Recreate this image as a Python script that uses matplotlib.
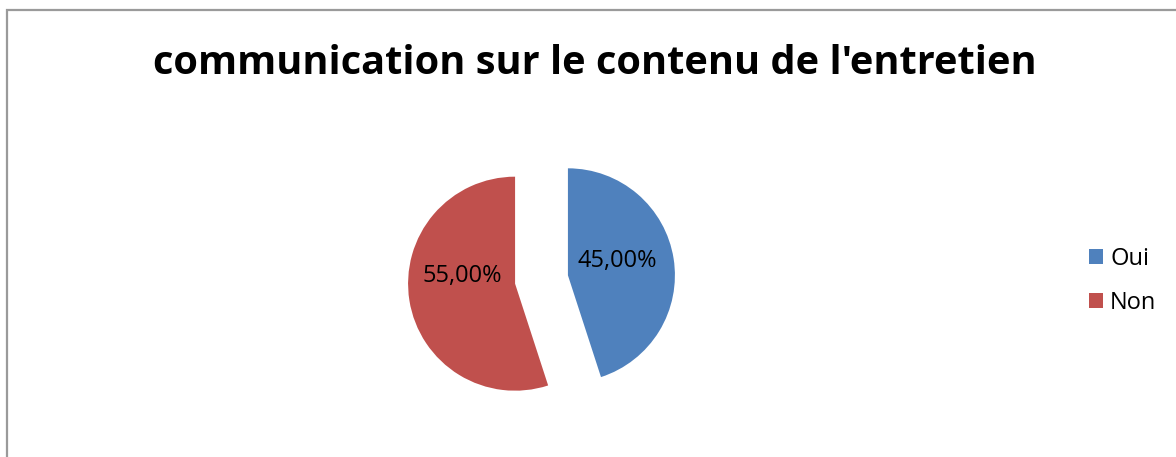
import matplotlib

matplotlib.use("Agg")
import matplotlib.pyplot as plt
from matplotlib.patches import Rectangle

plt.rcParams["font.family"] = ["Open Sans", "DejaVu Sans"]

title = "communication sur le contenu de l'entretien"
labels = ["Oui", "Non"]
shares = [45.0, 55.0]
colors = ["#4F81BD", "#C0504D"]

W, H = 1176, 457
fig = plt.figure(figsize=(W / 100, H / 100), dpi=100)

# gray chart frame (runs off the right and bottom edges)
fig.patches.append(Rectangle((7 / W, -0.05), 1.2, (H - 10) / H + 0.05, transform=fig.transFigure,
                             fill=False, edgecolor="#9a9a9a", linewidth=1.6))

fig.text(595 / W, 1 - 63 / H, title, ha="center", va="center", fontsize=28.6, fontweight="bold")

# pie axes: radius 1 in data = 107 px, centre at (541.5, 279.5) px
r_px = 107
cx, cy = 541.5, H - 279.5
half = 1.4 * r_px
ax = fig.add_axes([(cx - half) / W, (cy - half) / H, 2 * half / W, 2 * half / H])
wedges, texts, autotexts = ax.pie(
    shares, colors=colors, startangle=90, counterclock=False, explode=[0.25, 0.25],
    autopct=lambda p: f"{p:.2f}%".replace(".", ","), pctdistance=0.45,
    textprops={"fontsize": 17},
)
autotexts[0].set_position((0.71, 0.173))
autotexts[1].set_position((-0.743, 0.03))
ax.set_xlim(-1.4, 1.4)
ax.set_ylim(-1.4, 1.4)
ax.set_aspect("equal")
ax.axis("off")

fig.legend(wedges, labels, loc="center left", bbox_to_anchor=(1089 / W, 1 - 281 / H),
           frameon=False, fontsize=17, handlelength=0.58, handleheight=0.58,
           handletextpad=0.32, labelspacing=0.85, borderpad=0, borderaxespad=0)

fig.savefig("out.png", dpi=100)
